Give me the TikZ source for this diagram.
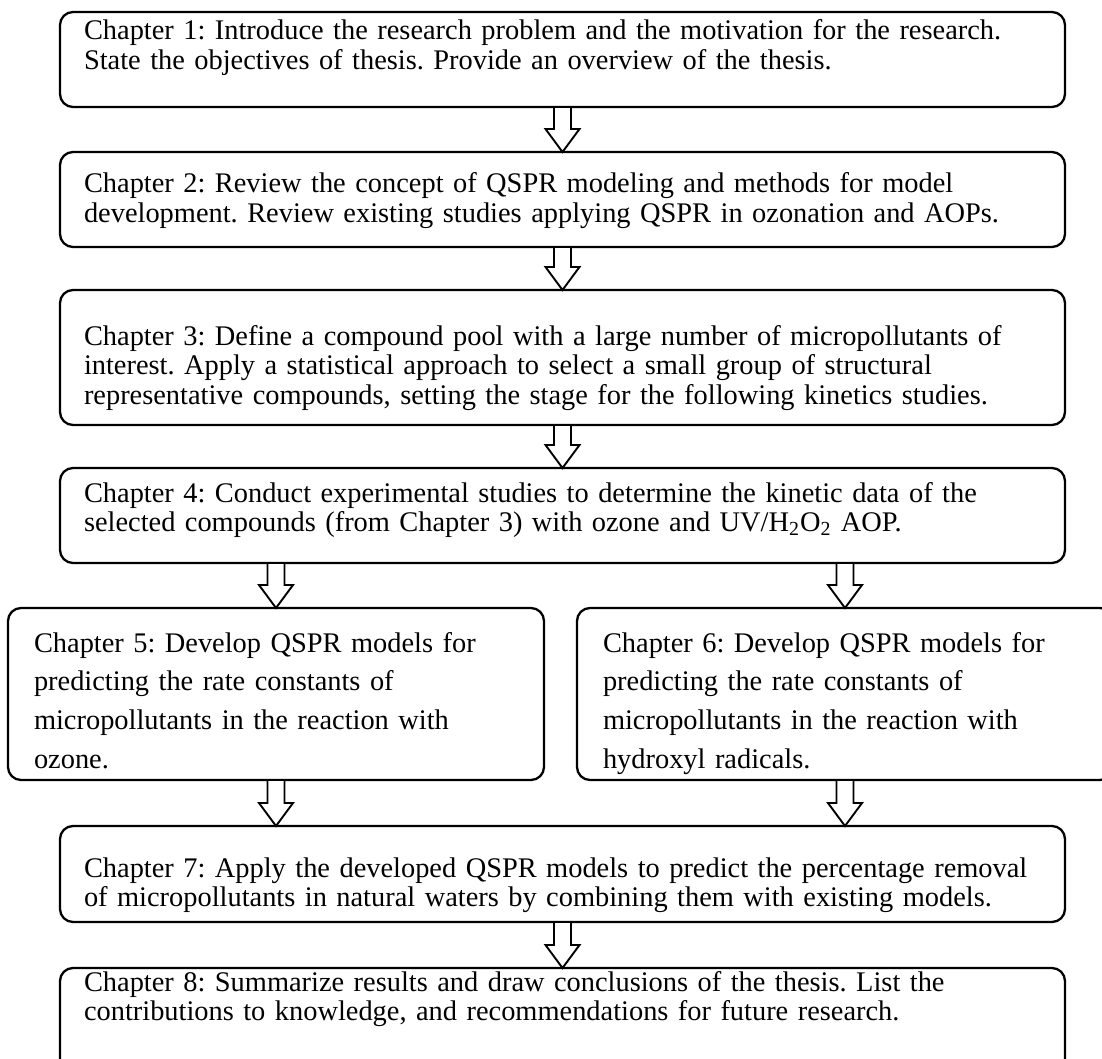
\documentclass[tikz,border=0pt]{standalone}
\usepackage{fontspec}
\setmainfont{Liberation Serif}
\usetikzlibrary{positioning,calc}
\frenchspacing

\tikzset{
  chap/.style={draw, line width=1.15pt, rounded corners=6.5pt, align=left,
    inner xsep=12pt, inner ysep=0pt, outer sep=0pt, text width=478.5pt,
    font=\fontsize{14.2}{14.8}\selectfont},
  halfchap/.style={chap, inner xsep=13pt, text width=242pt,
    font=\fontsize{14.2}{19.35}\selectfont},
  blockarrow/.style={draw, line width=0.95pt, fill=white, line join=miter,
    to path={($(\tikztostart)+(-4.25pt,0)$) -- ($(\tikztotarget)+(-4.25pt,11.5pt)$)
      -- ($(\tikztotarget)+(-8.5pt,11.5pt)$) -- (\tikztotarget)
      -- ($(\tikztotarget)+(8.5pt,11.5pt)$) -- ($(\tikztotarget)+(4.25pt,11.5pt)$)
      -- ($(\tikztostart)+(4.25pt,0)$) -- cycle}}
}

\begin{document}
\begin{tikzpicture}
    \useasboundingbox (0,0) rectangle (551pt,-529.5pt);

    \node[chap, anchor=north west, text height=14pt, text depth=33.5pt] (ch1) at (30pt,-6pt)
      {Chapter 1: Introduce the research problem and the motivation for the research.\\
       State the objectives of thesis. Provide an overview of the thesis.};
    \node[chap, below=22.5pt of ch1, text height=20.5pt, text depth=27pt] (ch2)
      {Chapter 2: Review the concept of QSPR modeling and methods for model\\
       development. Review existing studies applying QSPR in ozonation and AOPs.};
    \node[chap, below=21.5pt of ch2, text height=27.5pt, text depth=40pt] (ch3)
      {Chapter 3: Define a compound pool with a large number of micropollutants of\\
       interest. Apply a statistical approach to select a small group of structural\\
       representative compounds, setting the stage for the following kinetics studies.};
    \node[chap, below=21.5pt of ch3, text height=17pt, text depth=30.5pt] (ch4)
      {Chapter 4: Conduct experimental studies to determine the kinetic data of the\\
       selected compounds (from Chapter 3) with ozone and UV/H\textsubscript{2}O\textsubscript{2} AOP.};

    \node[halfchap, below=22.5pt of ch4.south west, anchor=north west, xshift=-26pt,
      text height=22pt, text depth=64pt] (ch5)
      {Chapter 5: Develop QSPR models for\\predicting the rate constants of\\
       micropollutants in the reaction with\\ozone.};
    \node[halfchap, right=16.5pt of ch5, text height=22pt, text depth=64pt] (ch6)
      {Chapter 6: Develop QSPR models for\\predicting the rate constants of\\
       micropollutants in the reaction with\\hydroxyl radicals.};

    \node[chap, below=23pt of ch5.south west, anchor=north west, xshift=26pt,
      text height=25.5pt, text depth=22.5pt] (ch7)
      {Chapter 7: Apply the developed QSPR models to predict the percentage removal\\
       of micropollutants in natural waters by combining them with existing models.};
    \node[chap, below=23pt of ch7, text height=11.5pt, text depth=50pt] (ch8)
      {Chapter 8: Summarize results and draw conclusions of the thesis. List the\\
       contributions to knowledge, and recommendations for future research.};

    \draw[blockarrow] (ch1.south) to (ch2.north);
    \draw[blockarrow] (ch2.south) to (ch3.north);
    \draw[blockarrow] (ch3.south) to (ch4.north);
    \draw[blockarrow] (ch4.south -| ch5.north) to (ch5.north);
    \draw[blockarrow] (ch4.south -| ch6.north) to (ch6.north);
    \draw[blockarrow] (ch5.south) to (ch7.north -| ch5.south);
    \draw[blockarrow] (ch6.south) to (ch7.north -| ch6.south);
    \draw[blockarrow] (ch7.south) to (ch8.north);
\end{tikzpicture}
\end{document}
